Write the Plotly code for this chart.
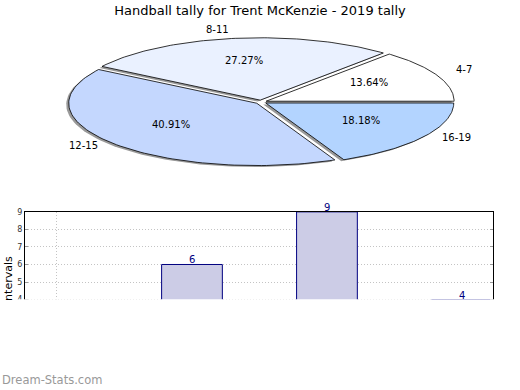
import numpy as np
import plotly.graph_objects as go

# ---- data ----
categories = ["4-7", "8-11", "12-15", "16-19"]
tally = [3, 6, 9, 4]
slice_colors = ["#ffffff", "#eaf1ff", "#c4d7fe", "#b3d4ff"]
title_text = "Handball tally for Trent McKenzie - 2019 tally"
y_title = "Intervals"
watermark = "Dream-Stats.com"
y_ticks = [4, 5, 6, 7, 8, 9]

# ---- layout constants (pixels) ----
W, H = 520, 390
CX, CY, RX, RY = 261, 99, 188, 63
EXPLODE = 0.03
SH_DX, SH_DY = -2.5, 1.5
TXT_DY = -3
FONT = "DejaVu Sans"

total = sum(tally)
fig = go.Figure()

wedges = []
start = 0.0
for cat, v, col in zip(categories, tally, slice_colors):
    span = 360.0 * v / total
    t1, t2 = start, start + span
    mid = np.radians((t1 + t2) / 2)
    ox = CX + EXPLODE * RX * np.cos(mid)
    oy = CY - EXPLODE * RY * np.sin(mid)
    th = np.radians(np.linspace(t1, t2, 90))
    xs = np.concatenate([[ox], ox + RX * np.cos(th), [ox]])
    ys = np.concatenate([[oy], oy - RY * np.sin(th), [oy]])
    wedges.append((cat, v, col, mid, ox, oy, xs, ys))
    start = t2

# shadows
for cat, v, col, mid, ox, oy, xs, ys in wedges:
    fig.add_trace(go.Scatter(x=xs + SH_DX, y=ys + SH_DY, mode="lines", fill="toself",
                             fillcolor="rgba(0,0,0,0.4)", line=dict(width=0),
                             hoverinfo="skip", showlegend=False, xaxis="x", yaxis="y"))
# wedges
for cat, v, col, mid, ox, oy, xs, ys in wedges:
    fig.add_trace(go.Scatter(x=xs, y=ys, mode="lines", fill="toself", fillcolor=col,
                             line=dict(color="black", width=0.8), name=cat,
                             showlegend=False, xaxis="x", yaxis="y"))

annotations = []
for cat, v, col, mid, ox, oy, xs, ys in wedges:
    c, s = np.cos(mid), np.sin(mid)
    annotations.append(dict(x=ox + 1.1 * RX * c, y=oy - 1.1 * RY * s + TXT_DY,
                            xref="x", yref="y", text=cat, showarrow=False,
                            xanchor="left" if c > 0 else "right", yanchor="middle",
                            font=dict(family=FONT, size=10, color="black")))
    annotations.append(dict(x=ox + 0.6 * RX * c, y=oy - 0.6 * RY * s + TXT_DY,
                            xref="x", yref="y", text=f"{100 * v / total:.2f}%",
                            showarrow=False, xanchor="center", yanchor="middle",
                            font=dict(family=FONT, size=10, color="black")))

# bar chart
fig.add_trace(go.Bar(x=categories, y=tally, xaxis="x2", yaxis="y2", width=0.45,
                     marker=dict(color="#ccccE6", line=dict(color="#000080", width=1)),
                     showlegend=False))
for cat, v in zip(categories, tally):
    if v >= y_ticks[0]:
        annotations.append(dict(x=cat, y=v, xref="x2", yref="y2", text=str(v),
                                showarrow=False, xanchor="center", yanchor="middle",
                                yshift=4.5,
                                font=dict(family=FONT, size=10, color="#000080")))

# y title, clip cover, watermark
annotations.append(dict(x=8, y=279, xref="x", yref="y", text=y_title, textangle=-90,
                        showarrow=False, xanchor="center", yanchor="middle",
                        font=dict(family=FONT, size=11, color="black")))
annotations.append(dict(x=0, y=299, xref="x", yref="y", text=" ", showarrow=False,
                        xanchor="left", yanchor="top", width=24, height=20,
                        bgcolor="white", borderpad=0, borderwidth=0))
annotations.append(dict(x=0, y=380, xref="x", yref="y", text=watermark, showarrow=False,
                        xanchor="left", yanchor="middle",
                        font=dict(family=FONT, size=11.5, color="#999999")))

fig.update_layout(
    width=W, height=H, margin=dict(l=0, r=0, t=0, b=0),
    paper_bgcolor="white", plot_bgcolor="rgba(0,0,0,0)",
    title=dict(text=title_text, x=0.5, xanchor="center", y=1 - 10 / H, yanchor="middle",
               font=dict(family=FONT, size=13, color="black")),
    xaxis=dict(range=[0, W], domain=[0, 1], visible=False, fixedrange=True),
    yaxis=dict(range=[H, 0], domain=[0, 1], visible=False, fixedrange=True),
    xaxis2=dict(domain=[25 / W, 493 / W], anchor="y2", type="category",
                range=[-0.237, 3.23], showline=True, mirror=True, linecolor="black",
                linewidth=1, showgrid=True, gridcolor="#c4c4c4", griddash="1px,2px",
                tickvals=[categories[0]], showticklabels=False, ticks="",
                fixedrange=True),
    yaxis2=dict(domain=[1 - 369.6 / H, 1 - 210 / H], anchor="x2", range=[0, 9],
                tickvals=y_ticks, showline=True, mirror="ticks", linecolor="black",
                linewidth=1, showgrid=True, gridcolor="#c4c4c4", griddash="1px,2px",
                zeroline=False, ticks="inside", ticklen=3, tickcolor="#999999",
                tickfont=dict(family=FONT, size=8, color="#333333"), fixedrange=True),
    shapes=[dict(type="rect", xref="x", yref="y", x0=0, x1=W, y0=298.4, y1=372,
                 fillcolor="white", line=dict(width=0), layer="above")],
    annotations=annotations,
)

fig.write_html("out.html", config={"displayModeBar": False},
               post_script="document.body.style.margin='0px';")
